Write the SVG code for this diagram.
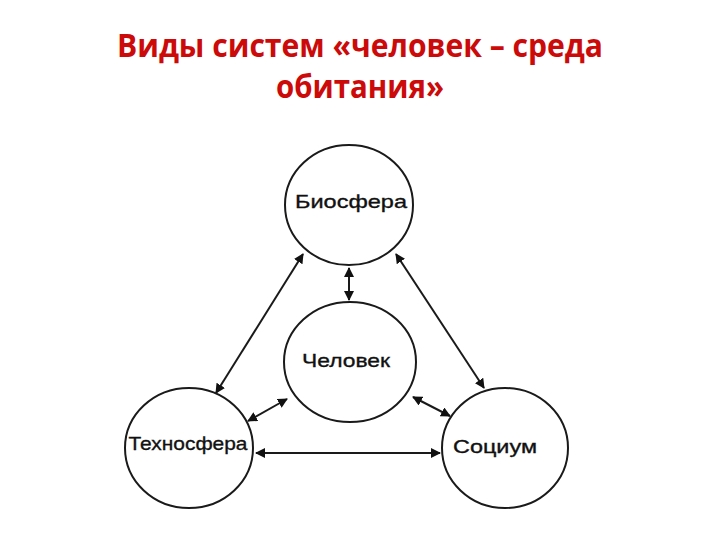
<svg xmlns="http://www.w3.org/2000/svg" width="720" height="540" viewBox="0 0 720 540">
<style>
.title{font-family:"Open Sans","Liberation Sans",sans-serif;font-weight:bold;font-size:32px;fill:#cc0a0a}
.node{fill:#fff;stroke:#1a1a1a;stroke-width:2}
.lbl{font-family:"Liberation Sans",Arial,sans-serif;font-size:19px;fill:#111;stroke:#111;stroke-width:0.35}
.conn{stroke:#1a1a1a;stroke-width:2;fill:none;marker-start:url(#ah);marker-end:url(#ah)}
</style>
<defs>
<marker id="ah" viewBox="0 0 10 10" refX="9" refY="5" markerWidth="5" markerHeight="5" orient="auto-start-reverse" markerUnits="strokeWidth">
<path d="M0,0 L10,5 L0,10 z" fill="#111"/>
</marker>
</defs>
<rect width="720" height="540" fill="#fff"/>
<text class="title" x="360" y="57" text-anchor="middle" textLength="486" lengthAdjust="spacingAndGlyphs">Виды систем «человек – среда</text>
<text class="title" x="360" y="98" text-anchor="middle" textLength="168" lengthAdjust="spacingAndGlyphs">обитания»</text>
<g id="connectors">
<line class="conn" x1="216" y1="393" x2="303" y2="254"/>
<line class="conn" x1="396" y1="254" x2="484" y2="388"/>
<line class="conn" x1="349" y1="268" x2="349" y2="300"/>
<line class="conn" x1="287" y1="399" x2="248" y2="421"/>
<line class="conn" x1="413" y1="397" x2="450" y2="416"/>
<line class="conn" x1="256" y1="453" x2="440" y2="453"/>
</g>
<g id="biosfera">
<ellipse class="node" cx="349" cy="205" rx="64" ry="60"/>
<text class="lbl" x="351" y="208" text-anchor="middle" textLength="112" lengthAdjust="spacingAndGlyphs">Биосфера</text>
</g>
<g id="chelovek">
<ellipse class="node" cx="350" cy="362" rx="66" ry="60"/>
<text class="lbl" x="346" y="367" text-anchor="middle" textLength="88" lengthAdjust="spacingAndGlyphs">Человек</text>
</g>
<g id="tehnosfera">
<ellipse class="node" cx="189" cy="448" rx="64" ry="60"/>
<text class="lbl" x="188" y="450" text-anchor="middle" textLength="119" lengthAdjust="spacingAndGlyphs">Техносфера</text>
</g>
<g id="socium">
<ellipse class="node" cx="505" cy="448" rx="63" ry="60"/>
<text class="lbl" x="495" y="453" text-anchor="middle" font-size="21" textLength="84" lengthAdjust="spacingAndGlyphs">Социум</text>
</g>
</svg>
